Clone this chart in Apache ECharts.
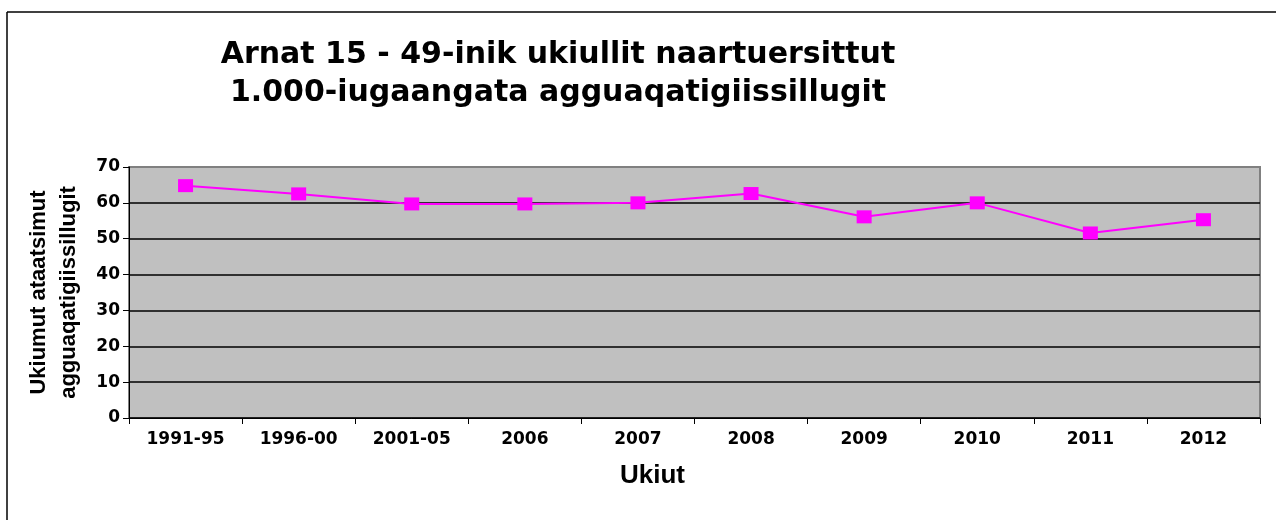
<!DOCTYPE html>
<html>
<head>
<meta charset="utf-8">
<script src="https://cdn.jsdelivr.net/npm/echarts@6/dist/echarts.min.js"></script>
<style>
html,body{margin:0;padding:0;background:#fff;}
#chart{width:1276px;height:520px;}
</style>
</head>
<body>
<div id="chart"></div>
<script>
const categories = ['1991-95','1996-00','2001-05','2006','2007','2008','2009','2010','2011','2012'];
const values = [64.8, 62.5, 59.7, 59.7, 60.0, 62.6, 56.1, 60.0, 51.6, 55.3];
const yTicks = [0, 10, 20, 30, 40, 50, 60, 70];
const titleText = 'Arnat 15 - 49-inik ukiullit naartuersittut\n1.000-iugaangata agguaqatigiissillugit';
const xName = 'Ukiut';
const yName = 'Ukiumut ataatsimut\nagguaqatigiissillugit';

const chart = echarts.init(document.getElementById('chart'), null, {renderer: 'canvas'});
const splitColors = yTicks.map((t, i) => i === yTicks.length - 1 ? '#808080' : '#000000');

chart.setOption({
  animation: false,
  backgroundColor: '#ffffff',
  title: {
    text: titleText,
    left: 553,
    top: 31,
    textAlign: 'center',
    textStyle: {
      fontFamily: 'DejaVu Sans',
      fontWeight: 'bold',
      fontSize: 30,
      lineHeight: 38,
      color: '#000'
    }
  },
  graphic: [
    {type: 'line', shape: {x1: 7, y1: 12, x2: 1276, y2: 12}, style: {stroke: '#000', lineWidth: 1.5}},
    {type: 'line', shape: {x1: 7, y1: 12, x2: 7, y2: 520}, style: {stroke: '#000', lineWidth: 1.5}}
  ],
  grid: {
    left: 129, right: 16, top: 167, bottom: 102,
    show: true,
    backgroundColor: '#C0C0C0',
    borderColor: '#808080',
    borderWidth: 2
  },
  xAxis: {
    type: 'category',
    data: categories,
    boundaryGap: true,
    name: xName,
    nameLocation: 'middle',
    nameGap: 45,
    nameTextStyle: {
      fontFamily: 'Liberation Sans', fontWeight: 'bold', fontSize: 26, color: '#000',
      padding: [0, 84, 0, 0]
    },
    axisLine: {lineStyle: {color: '#000', width: 1}},
    axisTick: {show: true, alignWithLabel: false, length: 6, lineStyle: {color: '#000'}},
    axisLabel: {
      margin: 13, interval: 0,
      fontFamily: 'DejaVu Sans', fontWeight: 'bold', fontSize: 17, color: '#000'
    },
    splitLine: {show: false}
  },
  yAxis: {
    type: 'value',
    min: 0, max: 70, interval: 10,
    name: yName,
    nameLocation: 'middle',
    nameRotate: 90,
    nameGap: 45,
    nameTextStyle: {
      fontFamily: 'Liberation Sans', fontWeight: 'bold', fontSize: 22, lineHeight: 30, color: '#000'
    },
    axisLine: {show: true, lineStyle: {color: '#000', width: 1}},
    axisTick: {show: true, length: 6, lineStyle: {color: '#000'}},
    axisLabel: {
      margin: 9,
      fontFamily: 'DejaVu Sans', fontWeight: 'bold', fontSize: 17, color: '#000'
    },
    splitLine: {show: true, lineStyle: {color: splitColors, width: 1.5}}
  },
  series: [{
    type: 'line',
    data: values,
    symbol: 'rect',
    symbolSize: [15, 13],
    itemStyle: {color: '#FF00FF'},
    lineStyle: {color: '#FF00FF', width: 2},
    z: 5
  }]
});
</script>
</body>
</html>
